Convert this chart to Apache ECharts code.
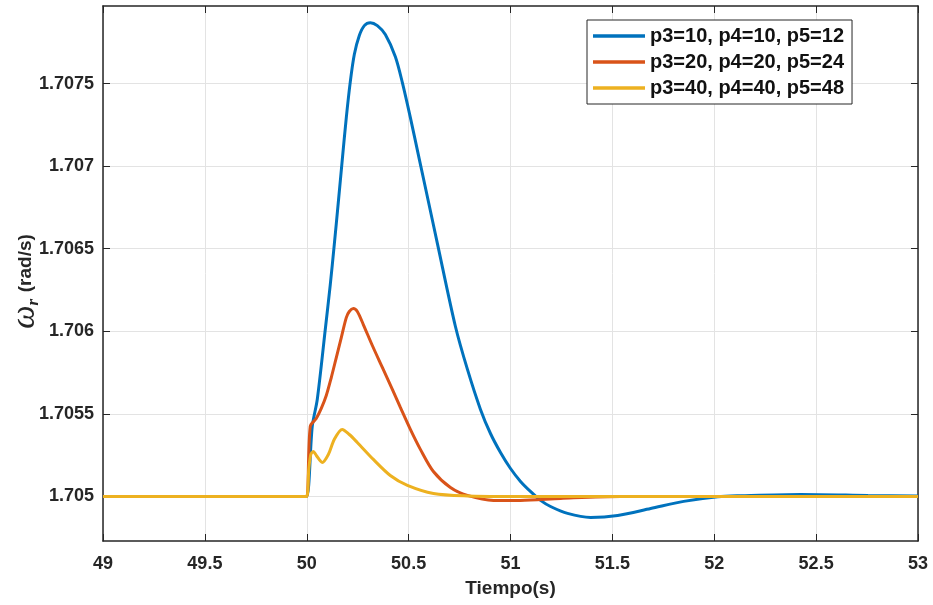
<!DOCTYPE html>
<html><head><meta charset="utf-8">
<script src="https://cdn.jsdelivr.net/npm/echarts@6/dist/echarts.min.js"></script>
<style>html,body{margin:0;padding:0;background:#fff}#c{width:933px;height:605px}</style>
</head><body><div id="c"></div>
<script>
const seriesNames = ['p3=10, p4=10, p5=12', 'p3=20, p4=20, p5=24', 'p3=40, p4=40, p5=48'];
const xTicks = [49, 49.5, 50, 50.5, 51, 51.5, 52, 52.5, 53];
const yTicks = [1.705, 1.7055, 1.706, 1.7065, 1.707, 1.7075];

const blueT = [49, 49.98, 50, 50.027, 50.0516, 50.0909, 50.1155, 50.1351, 50.1548, 50.1744, 50.1941, 50.2138, 50.2334, 50.2580, 50.2826, 50.3120, 50.3464, 50.3857, 50.4349, 50.4693, 50.5086, 50.5528, 50.5970, 50.6413, 50.7297, 50.7887, 50.8526, 50.9017, 50.9509, 51.0, 51.0491, 51.1032, 51.1474, 51.1966, 51.2801, 51.3931, 51.526, 51.688, 51.850, 52.017, 52.130, 52.425, 52.754, 53];
const blueV = [1.705, 1.705, 1.705, 1.705424, 1.705587, 1.706011, 1.706283, 1.706525, 1.706780, 1.707040, 1.707294, 1.707512, 1.707676, 1.707791, 1.707851, 1.707869, 1.707851, 1.707797, 1.707663, 1.707506, 1.707294, 1.707040, 1.706786, 1.706531, 1.706029, 1.705769, 1.705527, 1.705381, 1.705266, 1.705169, 1.705091, 1.705024, 1.704976, 1.704939, 1.704897, 1.704873, 1.704885, 1.704927, 1.704970, 1.704998, 1.705004, 1.705012, 1.705006, 1.705002];

const redT = [49, 49.98, 50, 50.0172, 50.0467, 50.0713, 50.0958, 50.1204, 50.1450, 50.1695, 50.1941, 50.2088, 50.2285, 50.2482, 50.2776, 50.3219, 50.3710, 50.4201, 50.4595, 50.5086, 50.5577, 50.6216, 50.7052, 50.7887, 50.9165, 51.049, 51.246, 51.541, 53];
const redV = [1.705, 1.705, 1.705, 1.705424, 1.705472, 1.705533, 1.705611, 1.705720, 1.705841, 1.705962, 1.706083, 1.706120, 1.706138, 1.706120, 1.706041, 1.705914, 1.705781, 1.705648, 1.705539, 1.705406, 1.705285, 1.705151, 1.705054, 1.705006, 1.704976, 1.704976, 1.704988, 1.705, 1.705];

const yelT = [49, 49.98, 50, 50.010, 50.020, 50.032, 50.047, 50.076, 50.106, 50.135, 50.174, 50.209, 50.248, 50.327, 50.410, 50.494, 50.622, 50.789, 51.0, 53];
const yelV = [1.705, 1.705, 1.705, 1.705163, 1.705254, 1.705272, 1.705248, 1.705206, 1.705254, 1.705345, 1.705406, 1.705375, 1.705327, 1.705224, 1.705127, 1.705067, 1.705018, 1.705003, 1.705, 1.705];

const colors = ['#0072BD', '#D95319', '#EDB120'];
const pair = (t, v) => t.map((x, i) => [x, v[i]]);
const dataSets = [pair(blueT, blueV), pair(redT, redV), pair(yelT, yelV)];

const axisCol = '#262626';
const gridCol = '#e3e3e3';
const yMin = 1.70473, yMax = 1.70797;
const fmtY = v => String(+(+v).toFixed(4));
const font = 'Liberation Sans, Arial, Helvetica';

const chart = echarts.init(document.getElementById('c'), null, {renderer: 'canvas'});
chart.setOption({
  animation: false,
  backgroundColor: '#fff',
  color: colors,
  grid: {left: 103, right: 15, top: 6, bottom: 64, containLabel: false, outerBoundsMode: 'none'},
  legend: {
    left: 587, top: 20, orient: 'vertical',
    data: seriesNames,
    icon: 'rect', itemWidth: 52, itemHeight: 3.5, itemGap: 4,
    padding: [5, 8, 5, 6],
    backgroundColor: '#fff', borderColor: axisCol, borderWidth: 1,
    textStyle: {fontFamily: font, fontWeight: 'bold', fontSize: 20, color: '#111', lineHeight: 22}
  },
  xAxis: [{
    type: 'value', min: 49, max: 53, interval: 0.5,
    name: 'Tiempo(s)', nameLocation: 'middle', nameGap: 38,
    nameTextStyle: {fontFamily: font, fontWeight: 'bold', fontSize: 19, color: axisCol},
    axisLine: {show: true, onZero: false, lineStyle: {color: axisCol, width: 1.5}},
    axisTick: {show: true, inside: true, length: 7, lineStyle: {color: axisCol}},
    axisLabel: {fontFamily: font, fontWeight: 'bold', fontSize: 18, color: axisCol, margin: 14,
      formatter: v => String(v)},
    splitLine: {show: true, lineStyle: {color: gridCol, width: 1}}
  }, {
    type: 'value', position: 'top', min: 49, max: 53, interval: 0.5,
    axisLine: {show: true, onZero: false, lineStyle: {color: axisCol, width: 1.5}},
    axisTick: {show: true, inside: true, length: 7, lineStyle: {color: axisCol}},
    axisLabel: {show: false}, splitLine: {show: false}
  }],
  yAxis: [{
    type: 'value', min: yMin, max: yMax,
    name: '{w|ω}{r|r}  {u|(rad/s)}', nameLocation: 'middle', nameGap: 61, nameRotate: 90,
    nameMoveOverlap: false,
    nameTextStyle: {
      padding: [0, 16, 0, 0],
      rich: {
        w: {fontFamily: 'Liberation Serif', fontStyle: 'italic', fontSize: 33, color: axisCol},
        r: {fontFamily: 'Liberation Serif', fontStyle: 'italic', fontWeight: 'bold', fontSize: 17, color: axisCol, verticalAlign: 'bottom', padding: [12, 0, 0, 0]},
        u: {fontFamily: font, fontWeight: 'bold', fontSize: 19, color: axisCol}
      }
    },
    axisLine: {show: true, onZero: false, lineStyle: {color: axisCol, width: 1.5}},
    axisTick: {show: true, inside: true, length: 7, lineStyle: {color: axisCol}, customValues: yTicks},
    axisLabel: {fontFamily: font, fontWeight: 'bold', fontSize: 18, color: axisCol, margin: 9,
      customValues: yTicks, formatter: fmtY},
    splitLine: {show: true, lineStyle: {color: gridCol, width: 1}}
  }, {
    type: 'value', position: 'right', min: yMin, max: yMax,
    axisLine: {show: true, onZero: false, lineStyle: {color: axisCol, width: 1.5}},
    axisTick: {show: true, inside: true, length: 7, lineStyle: {color: axisCol}, customValues: yTicks},
    axisLabel: {show: false, customValues: yTicks}, splitLine: {show: false}
  }],
  series: seriesNames.map((n, i) => ({
    name: n, type: 'line', data: dataSets[i], showSymbol: false, symbol: 'none',
    smooth: 0.3, lineStyle: {width: 3, color: colors[i]}, z: 3 + i
  }))
});
</script></body></html>
